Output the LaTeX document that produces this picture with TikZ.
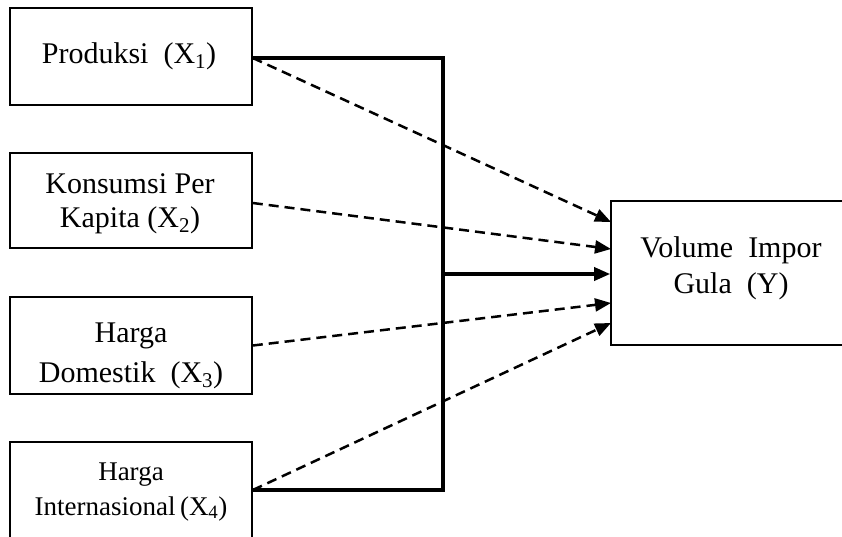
\documentclass[tikz,border=0pt]{standalone}
\usepackage{fontspec}
\setmainfont{Liberation Serif}
\usetikzlibrary{arrows.meta}
\begin{document}
\begin{tikzpicture}[x=1pt,y=-1pt,
 box/.style={draw=black, line width=1.6pt, inner sep=0pt},
 lbl/.style={anchor=base, inner sep=0pt, font=\fontsize{30}{34}\selectfont},
 lbls/.style={anchor=base, inner sep=0pt, font=\fontsize{27}{32}\selectfont},
 bus/.style={line width=3.4pt},
 dsh/.style={line width=2.5pt, dash pattern=on 10pt off 6pt, -{Triangle[length=16pt,width=13pt]}},
 arr/.style={line width=3.4pt, -{Triangle[length=16pt,width=13pt]}}]
\useasboundingbox (0,0) rectangle (842,536);
\clip (0,0) rectangle (842,536);
% boxes
\node[box, minimum width=242pt, minimum height=97pt] (b1) at (131,56.5) {};
\node[box, minimum width=242pt, minimum height=95pt] (b2) at (131,200.5) {};
\node[box, minimum width=242pt, minimum height=97pt] (b3) at (131,345.5) {};
\node[box, minimum width=242pt, minimum height=138pt] (b4) at (131,511) {};
\node[box, minimum width=269pt, minimum height=144pt] (by) at (745.5,273) {};
% texts
\node[lbl] (t1) at (129,63) {Produksi\ \ (X\textsubscript{1})};
\node[lbl] (t2a) at (130,193) {Konsumsi Per};
\node[lbl] (t2b) at (130,227) {Kapita (X\textsubscript{2})};
\node[lbl] (t3a) at (131,342) {Harga};
\node[lbl] (t3b) at (131,382) {Domestik\ \ (X\textsubscript{3})};
\node[lbls] (t4a) at (131,480) {Harga};
\node[lbls] (t4b) at (131,515) {Internasional\,(X\textsubscript{4})};
\node[lbl] (ty1) at (731,257) {Volume\ \ Impor};
\node[lbl] (ty2) at (731,293) {Gula\ \ (Y)};
% junction coordinates
\coordinate (j1) at (443,58);
\coordinate (j4) at (443,490);
\coordinate (jm) at (443,274);
\coordinate (e1) at (611,222);
\coordinate (e2) at (611,249);
\coordinate (e3) at (611,303);
\coordinate (e4) at (611,323);
% solid bus
\draw[bus] (b1.east |- j1) -- (j1) -- (j4) -- (b4.east |- j4);
\draw[arr] (jm) -- (by.west |- jm);
% dashed arrows
\draw[dsh] (b1.east |- j1) -- (e1);
\draw[dsh] ([yshift=-2.5pt]b2.east) -- (e2);
\draw[dsh] (b3.east) -- (e3);
\draw[dsh] (b4.east |- j4) -- (e4);
\end{tikzpicture}
\end{document}
